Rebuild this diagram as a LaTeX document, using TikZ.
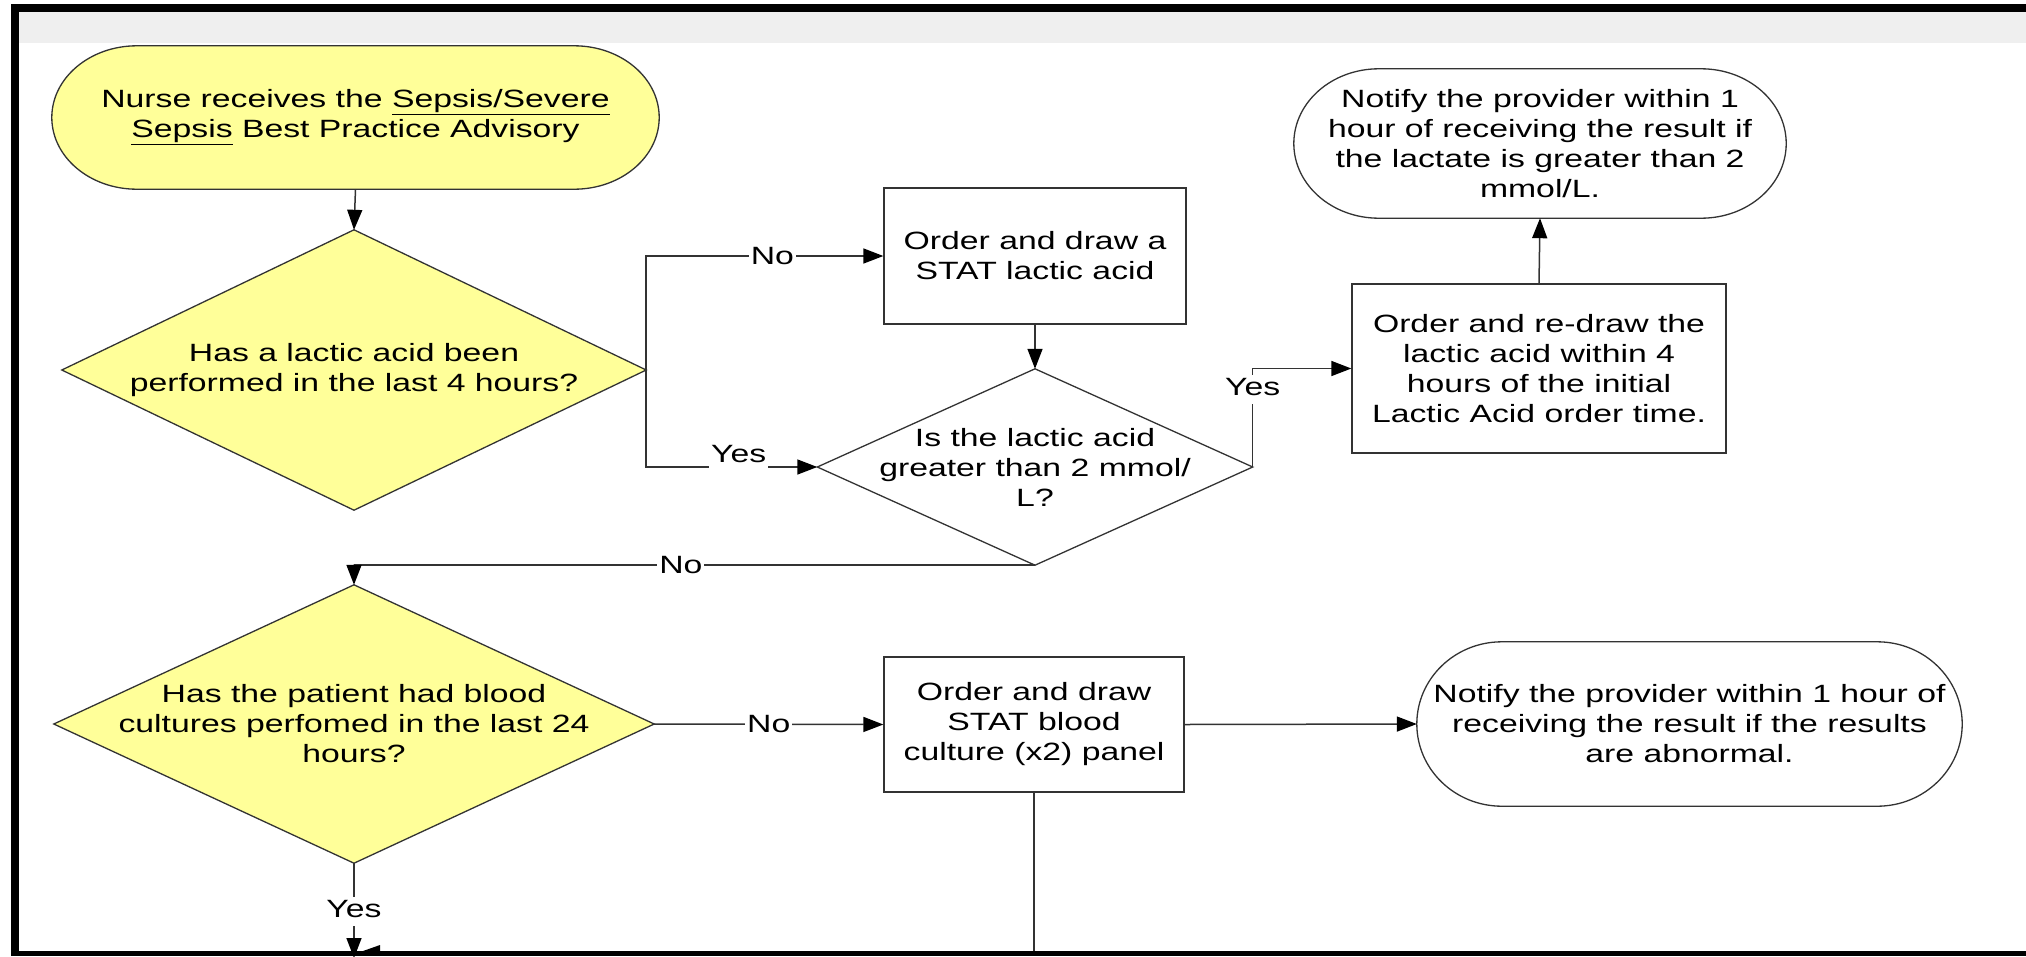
\documentclass[tikz,border=0pt]{standalone}
\usepackage{fontspec}
\setmainfont{Liberation Sans}[FakeStretch=1.35]
\usetikzlibrary{arrows.meta,backgrounds,calc}
\definecolor{yel}{HTML}{FFFF99}
\definecolor{hdr}{HTML}{EFEFEF}
\definecolor{ln}{HTML}{333333}
\newcommand\myterm[2]{%
  \path[shp, fill=#2] let \p1=(#1.north), \p2=(#1.south), \n1={(\y1-\y2)/2} in
    ([xshift=85pt]#1.north west) -- ([xshift=-85pt]#1.north east)
    arc[start angle=90, end angle=-90, x radius=85pt, y radius=\n1]
    -- ([xshift=85pt]#1.south west)
    arc[start angle=270, end angle=90, x radius=85pt, y radius=\n1] -- cycle;}
\newcommand\mydiam[2]{%
  \path[shp, fill=#2] (#1.west) -- (#1.north) -- (#1.east) -- (#1.south) -- cycle;}
\begin{document}
\begin{tikzpicture}[x=1pt,y=-1pt,
  txt/.style={font=\fontsize{25}{30}\selectfont, align=center, inner sep=0pt, text=black},
  shp/.style={draw=ln, line width=1.3pt},
  boxnode/.style={txt, shp, fill=white},
  con/.style={draw=ln, line width=1.5pt},
  arr/.style={con, -{Triangle[length=20pt,width=15pt,color=black]}},
  lab/.style={font=\fontsize{25}{30}\selectfont, fill=white, inner xsep=2pt, inner ysep=1pt, text=black},
  ylab/.style={lab, text height=20pt, text depth=9pt, inner ysep=0pt}]
\useasboundingbox (0,0) rectangle (2026,956);

% nodes
\node[txt, minimum width=607pt, minimum height=143pt] (start) at (355.5,117.5)
  {Nurse receives the \underline{Sepsis/Severe}\\\underline{Sepsis} Best Practice Advisory};
\node[txt, minimum width=584pt, minimum height=280pt] (D1) at (354,370)
  {Has a lactic acid been\\performed in the last 4 hours?};
\node[boxnode, minimum width=302pt, minimum height=136pt] (B1) at (1035,256)
  {Order and draw a\\STAT lactic acid};
\node[txt, minimum width=435pt, minimum height=196pt] (Dl) at (1035,467)
  {Is the lactic acid\\greater than 2 mmol/\\L?};
\node[boxnode, minimum width=374pt, minimum height=169pt] (B2) at (1539,368.5)
  {Order and re-draw the\\lactic acid within 4\\hours of the initial\\Lactic Acid order time.};
\node[txt, minimum width=492pt, minimum height=149pt] (N1) at (1540,143.5)
  {Notify the provider within 1\\hour of receiving the result if\\the lactate is greater than 2\\mmol/L.};
\node[txt, minimum width=600pt, minimum height=278pt] (D2) at (354,724)
  {Has the patient had blood\\cultures perfomed in the last 24\\hours?};
\node[boxnode, minimum width=300pt, minimum height=135pt] (B3) at (1034,724.5)
  {Order and draw\\STAT blood\\culture (x2) panel};
\node[txt, minimum width=545pt, minimum height=164pt] (N2) at (1689.5,724)
  {Notify the provider within 1 hour of\\receiving the result if the results\\are abnormal.};

\begin{scope}[on background layer]
  \fill[white] (0,0) rectangle (2026,956);
  \fill[hdr] (19,12) rectangle (2026,43);
  \myterm{start}{yel}
  \myterm{N1}{white}
  \myterm{N2}{white}
  \mydiam{D1}{yel}
  \mydiam{D2}{yel}
  \mydiam{Dl}{white}
\end{scope}

\coordinate (ybot) at (354,958);
\coordinate (b3bot) at (1034,956);

% connectors
\draw[arr] (start.south) -- (D1.north);
\draw[arr] (D1.east) |- node[lab, pos=0.766] {No} (B1.west);
\draw[arr] (D1.east) |- node[ylab, pos=0.77, anchor=base, yshift=5pt] {Yes} (Dl.west);
\draw[arr] (B1.south) -- (Dl.north);
\draw[arr] (Dl.east) |- node[ylab, pos=0.393] {Yes} (B2.west);
\draw[arr] (B2.north) -- (N1.south);
\draw[arr] (Dl.south) -| node[lab, pos=0.26] {No} (D2.north);
\draw[arr] (D2.east) -- node[lab, pos=0.5] {No} (B3.west);
\draw[arr] (B3.east) -- (N2.west);
\draw[arr] (D2.south) -- node[ylab, pos=0.51] {Yes} (ybot);
\draw[con] (B3.south) -- (b3bot);
\fill[black] (363,951) -- (380,945) -- (380,951) -- cycle;

% frame
\fill[black] (11,4) rectangle (2026,12);
\fill[black] (11,4) rectangle (19,956);
\fill[black] (11,951) rectangle (2026,956);
\end{tikzpicture}
\end{document}
